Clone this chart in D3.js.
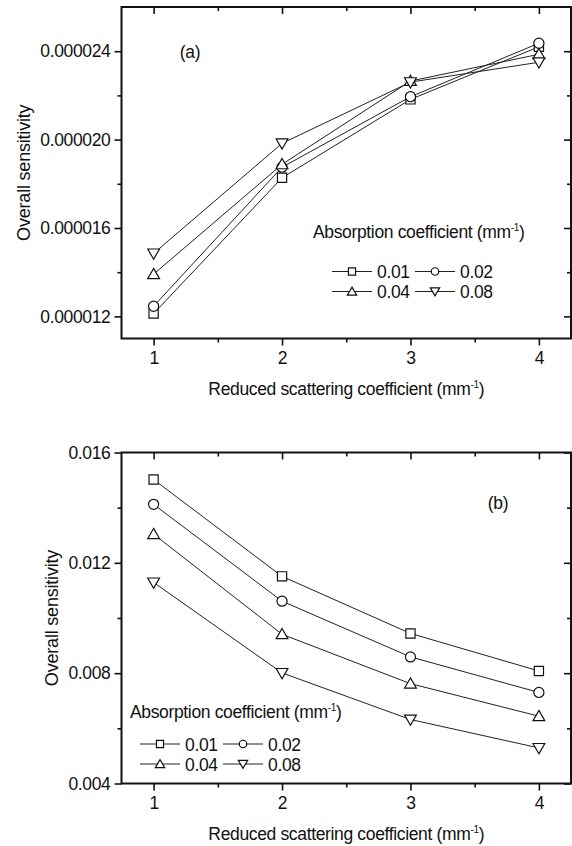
<!DOCTYPE html>
<html>
<head>
<meta charset="utf-8">
<script src="https://cdn.jsdelivr.net/npm/d3@7"></script>
<style>
  html, body { margin: 0; padding: 0; background: #fff; }
  svg { display: block; }
  text { font-family: "Liberation Sans", Arial, sans-serif; fill: #111; }
</style>
</head>
<body>
<svg id="chart" width="572" height="846"></svg>
<script>
// ---------- data ----------
const scattering = [1, 2, 3, 4];
const absorption = ["0.01", "0.02", "0.04", "0.08"];
const markerTypes = ["square", "circle", "triangle", "triangleDown"];

// panel (a)
const sensA_001 = [0.00001213, 0.00001827, 0.00002182, 0.00002420];
const sensA_002 = [0.00001246, 0.00001875, 0.00002194, 0.00002436];
const sensA_004 = [0.00001391, 0.00001888, 0.00002265, 0.00002386];
const sensA_008 = [0.00001485, 0.00001983, 0.00002260, 0.00002350];

// panel (b)
const sensB_001 = [0.01502, 0.01151, 0.00944, 0.00808];
const sensB_002 = [0.01412, 0.01061, 0.00859, 0.00730];
const sensB_004 = [0.01304, 0.00941, 0.00762, 0.00644];
const sensB_008 = [0.01129, 0.00801, 0.00632, 0.00529];

const xTickValues = [1, 2, 3, 4];
const xMinorValues = [1.5, 2.5, 3.5];
const yTicksA = [0.000012, 0.000016, 0.000020, 0.000024];
const yMinorA = [0.000014, 0.000018, 0.000022];
const yTicksB = [0.004, 0.008, 0.012, 0.016];
const yMinorB = [0.006, 0.010, 0.014];

const xTitleMain = "Reduced scattering coefficient (mm";
const yTitle = "Overall sensitivity";
const legendTitle = "Absorption coefficient (mm";

// ---------- drawing ----------
const svg = d3.select("#chart");
const FS = 17.5;
const LS = "-0.35px";

function symbolPath(type, size) {
  const t = (type === "square") ? d3.symbolSquare
          : (type === "circle") ? d3.symbolCircle
          : d3.symbolTriangle;
  return d3.symbol().type(t).size(size)();
}
function marker(g, type, x, y, size) {
  const rot = type === "triangleDown" ? " rotate(180)" : "";
  const dy = (type === "triangle") ? 1 : (type === "triangleDown" ? -1 : 0);
  g.append("path")
    .attr("d", symbolPath(type, size))
    .attr("transform", `translate(${x},${y + dy})${rot}`)
    .attr("fill", "#fff")
    .attr("stroke", "#111")
    .attr("stroke-width", 1.2);
}
const markerSizes = { square: 85, circle: 80, triangle: 60, triangleDown: 60 };
const legendSizes = { square: 50, circle: 44, triangle: 38, triangleDown: 38 };

function superTitle(sel, main) {
  sel.append("tspan").text(main);
  sel.append("tspan").attr("font-size", 10).attr("dy", -7).text("-1");
  sel.append("tspan").attr("dy", 7).text(")");
}

function drawPanel(opt) {
  const { top, bottom, left, right, yDomain, yTicks, yMinor, yFormat, series,
          label, labelPos, legendTitlePos, legendRows } = opt;
  const g = svg.append("g");
  const x = d3.scaleLinear().domain([0.75, 4.25]).range([left, right]);
  const y = d3.scaleLinear().domain(yDomain).range([bottom, top]);

  const styleAxis = a => {
    a.select(".domain").remove();
    a.selectAll("line").attr("stroke", "#111").attr("stroke-width", 1.6);
    a.selectAll("text").attr("font-size", FS).attr("fill", "#111")
      .attr("letter-spacing", LS)
      .attr("font-family", "Liberation Sans, Arial, sans-serif");
  };

  // bottom (outward)
  g.append("g").attr("transform", `translate(0,${bottom})`)
    .call(d3.axisBottom(x).tickValues(xTickValues).tickSize(7).tickPadding(6).tickFormat(d3.format("d")))
    .call(styleAxis);
  g.append("g").attr("transform", `translate(0,${bottom})`)
    .call(d3.axisBottom(x).tickValues(xMinorValues).tickSize(4).tickFormat(""))
    .call(styleAxis);
  // top (inward)
  g.append("g").attr("transform", `translate(0,${top})`)
    .call(d3.axisTop(x).tickValues(xTickValues).tickSize(-7).tickFormat(""))
    .call(styleAxis);
  g.append("g").attr("transform", `translate(0,${top})`)
    .call(d3.axisTop(x).tickValues(xMinorValues).tickSize(-4).tickFormat(""))
    .call(styleAxis);
  // left (outward)
  g.append("g").attr("transform", `translate(${left},0)`)
    .call(d3.axisLeft(y).tickValues(yTicks).tickSize(7).tickPadding(4).tickFormat(yFormat))
    .call(styleAxis);
  g.append("g").attr("transform", `translate(${left},0)`)
    .call(d3.axisLeft(y).tickValues(yMinor).tickSize(4).tickFormat(""))
    .call(styleAxis);
  // right (inward)
  g.append("g").attr("transform", `translate(${right},0)`)
    .call(d3.axisRight(y).tickValues(yTicks).tickSize(-7).tickFormat(""))
    .call(styleAxis);
  g.append("g").attr("transform", `translate(${right},0)`)
    .call(d3.axisRight(y).tickValues(yMinor).tickSize(-4).tickFormat(""))
    .call(styleAxis);

  // frame
  g.append("rect").attr("x", left).attr("y", top)
    .attr("width", right - left).attr("height", bottom - top)
    .attr("fill", "none").attr("stroke", "#111").attr("stroke-width", 2);

  // series
  const line = d3.line().x((d, i) => x(scattering[i])).y(d => y(d));
  series.forEach((vals, si) => {
    g.append("path").attr("d", line(vals)).attr("fill", "none")
      .attr("stroke", "#222").attr("stroke-width", 1);
  });
  series.forEach((vals, si) => {
    vals.forEach((v, i) => marker(g, markerTypes[si], x(scattering[i]), y(v), markerSizes[markerTypes[si]]));
  });

  // panel label
  g.append("text").attr("x", labelPos[0]).attr("y", labelPos[1])
    .attr("text-anchor", "middle").attr("font-size", FS).attr("letter-spacing", LS).text(label);

  // axis titles
  const xt = g.append("text").attr("x", (left + right) / 2).attr("y", bottom + 56)
    .attr("text-anchor", "middle").attr("font-size", FS).attr("letter-spacing", LS);
  superTitle(xt, xTitleMain);
  g.append("text").attr("transform", `translate(${opt.yTitleX},${(top + bottom) / 2}) rotate(-90)`)
    .attr("text-anchor", "middle").attr("font-size", 18).attr("letter-spacing", "-0.2px").text(yTitle);

  // legend
  const lt = g.append("text").attr("x", legendTitlePos[0]).attr("y", legendTitlePos[1])
    .attr("font-size", FS).attr("letter-spacing", LS);
  superTitle(lt, legendTitle);
  absorption.forEach((name, si) => {
    const row = Math.floor(si / 2), col = si % 2;
    const lx = legendRows.x + col * 83;
    const ly = legendRows.y + row * 20;
    g.append("line").attr("x1", lx).attr("x2", lx + 40).attr("y1", ly).attr("y2", ly)
      .attr("stroke", "#222").attr("stroke-width", 1);
    marker(g, markerTypes[si], lx + 20, ly, legendSizes[markerTypes[si]]);
    g.append("text").attr("x", lx + 45).attr("y", ly + 6.5).attr("font-size", FS)
      .attr("letter-spacing", LS).text(name);
  });
}

drawPanel({
  top: 7, bottom: 338.5, left: 121.5, right: 571,
  yDomain: [0.000011, 0.000026], yTicks: yTicksA, yMinor: yMinorA,
  yFormat: d3.format(".6f"),
  series: [sensA_001, sensA_002, sensA_004, sensA_008],
  label: "(a)", labelPos: [190, 58],
  yTitleX: 29.5,
  legendTitlePos: [313, 237.5],
  legendRows: { x: 332, y: 271.5 }
});

drawPanel({
  top: 452.5, bottom: 783.5, left: 121.5, right: 571,
  yDomain: [0.004, 0.016], yTicks: yTicksB, yMinor: yMinorB,
  yFormat: d3.format(".3f"),
  series: [sensB_001, sensB_002, sensB_004, sensB_008],
  label: "(b)", labelPos: [498, 508.5],
  yTitleX: 58,
  legendTitlePos: [130, 717.5],
  legendRows: { x: 140, y: 744 }
});
</script>
</body>
</html>
